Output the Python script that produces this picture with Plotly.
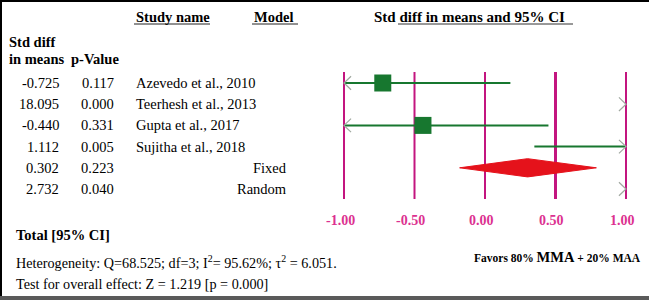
import plotly.graph_objects as go

# ---------------- data ----------------
studies = ["Azevedo et al., 2010", "Teerhesh et al., 2013", "Gupta et al., 2017",
           "Sujitha et al., 2018", "", ""]
models = ["", "", "", "", "Fixed", "Random"]
smd = [-0.725, 18.095, -0.440, 1.112, 0.302, 2.732]
smd_lbl = ["-0.725", "18.095", "-0.440", "1.112", "0.302", "2.732"]
pvals = ["0.117", "0.000", "0.331", "0.005", "0.223", "0.040"]
ci_low = [-1.63, 16.20, -1.33, 0.35, -0.18, 1.08]
ci_high = [0.18, 19.99, 0.45, 1.87, 0.79, 4.38]
kind = ["study", "study", "study", "study", "fixed", "random"]
ticks = [-1.0, -0.5, 0.0, 0.5, 1.0]
tick_labels = ["-1.00", "-0.50", "0.00", "0.50", "1.00"]
xmin, xmax = -1.0, 1.0

W, H = 649, 300
FONT = "Liberation Serif, Times New Roman, serif"
GREEN = "#17772f"
MAG = "#c3157f"
TICKC = "#dc3190"
RED = "#e5121b"

# pixel geometry of the data axis
X0PX, X1PX = 344, 626          # -1 and +1
ROW0, DROW = 83.0, 21.2        # row centres in pixels
def py2v(p):
    return (p - ROW0) / DROW

fig = go.Figure()

# reference lines at each tick
for t in ticks:
    fig.add_trace(go.Scatter(x=[t, t], y=[py2v(72), py2v(199)], mode="lines",
                             line=dict(color=MAG, width=3 if t == 0.5 else 2),
                             hoverinfo="skip", showlegend=False))

AW, AH = 0.05, 0.32  # arrow size in data units
for i, k in enumerate(kind):
    lo, hi, m = ci_low[i], ci_high[i], smd[i]
    if k == "fixed":
        fig.add_trace(go.Scatter(x=[lo, m, hi, m, lo], y=[i, i - 0.43, i, i + 0.43, i],
                                 mode="lines", fill="toself", fillcolor=RED,
                                 line=dict(color=RED, width=1), hoverinfo="skip",
                                 showlegend=False))
        continue
    a = max(lo, xmin); b = min(hi, xmax)
    if a < b:
        fig.add_trace(go.Scatter(x=[a, b], y=[i, i], mode="lines",
                                 line=dict(color=GREEN, width=2),
                                 hoverinfo="skip", showlegend=False))
    if lo < xmin:
        fig.add_trace(go.Scatter(x=[xmin + AW, xmin, xmin + AW], y=[i - AH, i, i + AH],
                                 mode="lines", line=dict(color="#a0a8a0", width=1.2),
                                 hoverinfo="skip", showlegend=False))
    if hi > xmax:
        fig.add_trace(go.Scatter(x=[xmax - AW, xmax, xmax - AW], y=[i - AH, i, i + AH],
                                 mode="lines", line=dict(color="#a0a8a0", width=1.2),
                                 hoverinfo="skip", showlegend=False))
    if k == "study" and xmin <= m <= xmax:
        fig.add_trace(go.Scatter(x=[m], y=[i], mode="markers",
                                 marker=dict(symbol="square", size=17, color=GREEN),
                                 hoverinfo="skip", showlegend=False))

# ---------------- text ----------------
ann = []
def txt(text, x, y, xanchor="left", size=14.5, color="black", yref="y", xref="paper", xshift=0):
    ann.append(dict(text=text, x=x, y=y, xref=xref, yref=yref, xanchor=xanchor,
                    yanchor="middle", showarrow=False, xshift=xshift,
                    font=dict(family=FONT, size=size, color=color)))

def pxx(p):
    return p / W

for i in range(len(smd)):
    txt(smd_lbl[i], pxx(61), i, "right")
    txt(pvals[i], pxx(116), i, "right")
    if studies[i]:
        txt(studies[i], pxx(134), i, "left")
    if models[i]:
        txt(models[i], pxx(289), i, "right")

txt("<b>Study name</b>", pxx(134), py2v(17), size=14.5)
txt("<b>Model</b>", pxx(252), py2v(17), size=14.5)
txt("<b>Std diff in means and 95% CI</b>", pxx(372), py2v(17), size=15)
txt("<b>Std diff</b>", pxx(7), py2v(42))
txt("<b>in means</b>", pxx(7), py2v(59))
txt("<b>p-Value</b>", pxx(69), py2v(59))

for t, lab in zip(ticks, tick_labels):
    txt("<b>%s</b>" % lab, t, py2v(220), "center", size=14, color=TICKC, xref="x", xshift=-4)

txt("<b>Total [95% CI]</b>", pxx(14), py2v(235))
txt("Heterogeneity: Q=68.525; df=3; I<sup>2</sup>= 95.62%; τ<sup>2</sup> = 6.051.", pxx(14), py2v(262), size=14.2)
txt("Test for overall effect: Z = 1.219 [p = 0.000]", pxx(14), py2v(284), size=14.2)
txt("<b><span style='font-size:11.5px'>Favors 80% </span>MMA<span style='font-size:11.5px'> + 20% MAA</span></b>",
    pxx(643), py2v(257), "right", size=14.5)

# ---------------- decorations ----------------
shapes = [
    dict(type="line", xref="paper", yref="paper", x0=0, x1=1, y0=1 - 1 / H, y1=1 - 1 / H,
         line=dict(color="black", width=2)),
    dict(type="line", xref="paper", yref="paper", x0=1 / W, x1=1 / W, y0=0, y1=1,
         line=dict(color="black", width=2)),
    dict(type="rect", xref="paper", yref="paper", x0=0, x1=1, y0=0, y1=4 / H,
         line=dict(width=0), fillcolor="#5a5a5a"),
    # header underlines
    dict(type="line", xref="paper", yref="paper", x0=pxx(134), x1=pxx(210), y0=1 - 24 / H, y1=1 - 24 / H,
         line=dict(color="#222", width=1)),
    dict(type="line", xref="paper", yref="paper", x0=pxx(252), x1=pxx(298), y0=1 - 24 / H, y1=1 - 24 / H,
         line=dict(color="#222", width=1)),
    dict(type="line", xref="paper", yref="paper", x0=pxx(398), x1=pxx(573), y0=1 - 24 / H, y1=1 - 24 / H,
         line=dict(color="#333", width=1)),
]

# axis ranges so that data map onto the reference pixel geometry
ux = (X1PX - X0PX) / (xmax - xmin)
xr = [xmin - X0PX / ux, xmax + (W - X1PX) / ux]
yr = [py2v(H), py2v(0)]

fig.update_layout(
    width=W, height=H, margin=dict(l=0, r=0, t=0, b=0),
    paper_bgcolor="white", plot_bgcolor="white",
    xaxis=dict(range=xr, visible=False, fixedrange=True),
    yaxis=dict(range=yr, visible=False, fixedrange=True),
    annotations=ann, shapes=shapes, showlegend=False,
)
fig.write_html("out.html", config={"displayModeBar": False},
               post_script="document.body.style.margin='0';document.body.style.overflow='hidden';")
